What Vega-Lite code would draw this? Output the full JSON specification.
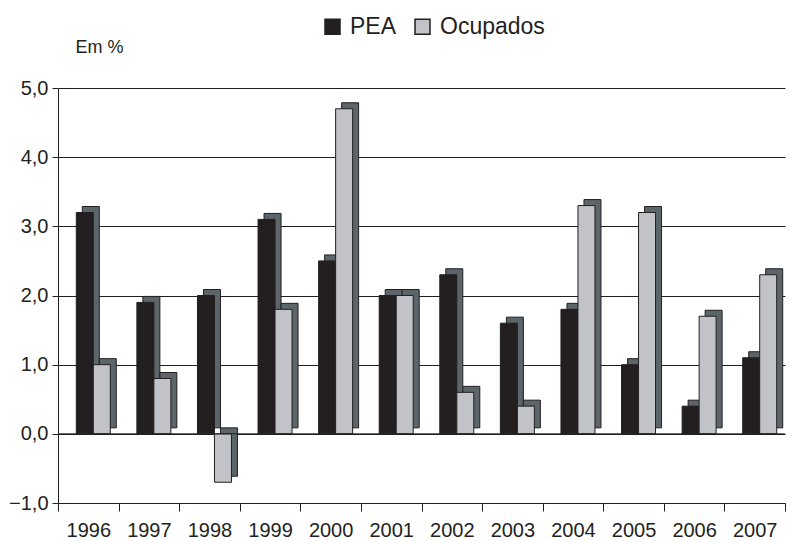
{
  "$schema": "https://vega.github.io/schema/vega-lite/v6.json",
  "autosize": "none",
  "padding": {"left": 58, "top": 88, "right": 10, "bottom": 38},
  "width": 727,
  "height": 415,
  "background": "white",
  "config": {"font": "Liberation Sans", "view": {"stroke": null}},
  "data": {"values": [
    {"ano": "1996", "serie": "PEA", "valor": 3.2}, {"ano": "1996", "serie": "Ocupados", "valor": 1.0},
    {"ano": "1997", "serie": "PEA", "valor": 1.9}, {"ano": "1997", "serie": "Ocupados", "valor": 0.8},
    {"ano": "1998", "serie": "PEA", "valor": 2.0}, {"ano": "1998", "serie": "Ocupados", "valor": -0.7},
    {"ano": "1999", "serie": "PEA", "valor": 3.1}, {"ano": "1999", "serie": "Ocupados", "valor": 1.8},
    {"ano": "2000", "serie": "PEA", "valor": 2.5}, {"ano": "2000", "serie": "Ocupados", "valor": 4.7},
    {"ano": "2001", "serie": "PEA", "valor": 2.0}, {"ano": "2001", "serie": "Ocupados", "valor": 2.0},
    {"ano": "2002", "serie": "PEA", "valor": 2.3}, {"ano": "2002", "serie": "Ocupados", "valor": 0.6},
    {"ano": "2003", "serie": "PEA", "valor": 1.6}, {"ano": "2003", "serie": "Ocupados", "valor": 0.4},
    {"ano": "2004", "serie": "PEA", "valor": 1.8}, {"ano": "2004", "serie": "Ocupados", "valor": 3.3},
    {"ano": "2005", "serie": "PEA", "valor": 1.0}, {"ano": "2005", "serie": "Ocupados", "valor": 3.2},
    {"ano": "2006", "serie": "PEA", "valor": 0.4}, {"ano": "2006", "serie": "Ocupados", "valor": 1.7},
    {"ano": "2007", "serie": "PEA", "valor": 1.1}, {"ano": "2007", "serie": "Ocupados", "valor": 2.3}
  ]},
  "encoding": {
    "x": {"field": "ano", "type": "nominal", "sort": null,
      "scale": {"paddingInner": 0, "paddingOuter": 0},
      "axis": {"title": null, "labelAngle": 0, "labelFontSize": 20, "labelColor": "#231f20",
        "tickBand": "extent", "tickSize": 8, "tickColor": "#231f20", "domainColor": "#231f20",
        "labelPadding": 9}},
    "y": {"field": "valor", "type": "quantitative",
      "scale": {"domain": [-1, 5], "nice": false},
      "axis": {"values": [-1, 0, 1, 2, 3, 4, 5], "labelExpr": "replace(format(datum.value, '.1f'), '.', ',')",
        "labelFontSize": 20, "labelColor": "#231f20", "tickColor": "#231f20", "domainColor": "#231f20",
        "tickSize": 6, "labelPadding": 4,
        "grid": true, "gridColor": "#231f20", "gridWidth": 1,
        "title": "Em %", "titleAngle": 0, "titleAlign": "left", "titleBaseline": "middle",
        "titleX": 17, "titleY": -41, "titleFontSize": 18, "titleFontWeight": "normal", "titleColor": "#231f20"}},
    "color": {"field": "serie", "type": "nominal",
      "scale": {"domain": ["PEA", "Ocupados"], "range": ["#231f20", "#c1c3c9"]},
      "legend": {"title": null, "orient": "none", "direction": "horizontal", "legendX": 263, "legendY": -73,
        "symbolType": "square", "symbolSize": 225, "symbolStrokeColor": "#231f20", "symbolStrokeWidth": 1.5,
        "labelFontSize": 23, "labelColor": "#231f20", "columnPadding": 14, "labelOffset": 6}}
  },
  "layer": [
    {
      "transform": [{"filter": "datum.serie == 'PEA'"}],
      "mark": {"type": "bar", "fill": "#5c6569", "stroke": "#231f20", "strokeWidth": 1, "width": {"band": 0.2806}, "xOffset": 2.5, "yOffset": -6},
      "encoding": {"color": null}
    },
    {
      "transform": [{"filter": "datum.serie == 'PEA'"}],
      "mark": {"type": "bar", "stroke": "#231f20", "strokeWidth": 1, "width": {"band": 0.2806}, "xOffset": -3.5}
    },
    {
      "transform": [{"filter": "datum.serie == 'Ocupados'"}],
      "mark": {"type": "bar", "fill": "#5c6569", "stroke": "#231f20", "strokeWidth": 1, "width": {"band": 0.2806}, "xOffset": 19.5, "yOffset": -6},
      "encoding": {"color": null}
    },
    {
      "transform": [{"filter": "datum.serie == 'Ocupados'"}],
      "mark": {"type": "bar", "stroke": "#231f20", "strokeWidth": 1, "width": {"band": 0.2806}, "xOffset": 13.5}
    },
    {
      "data": {"values": [{"v": 0}]},
      "mark": {"type": "rule", "color": "#231f20", "strokeWidth": 1},
      "encoding": {"y": {"field": "v", "type": "quantitative"}, "x": null, "color": null}
    }
  ]
}
